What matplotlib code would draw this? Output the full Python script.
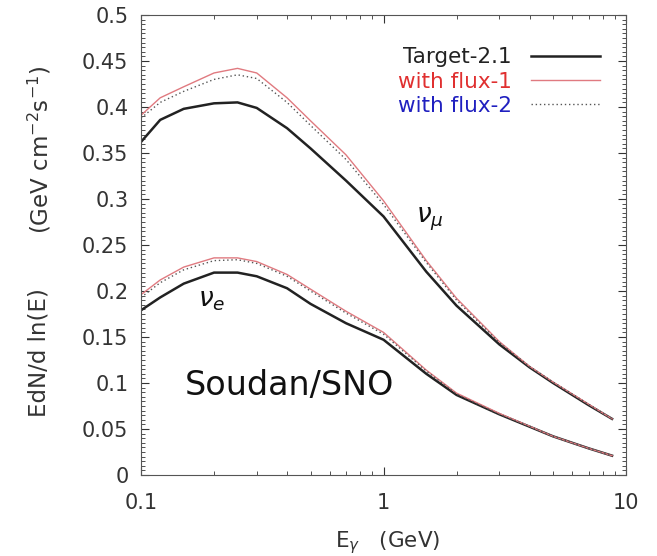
import numpy as np
import matplotlib
matplotlib.use('Agg')
import matplotlib.pyplot as plt
from matplotlib.ticker import MultipleLocator, NullFormatter

# energie (GeV)
energia = [0.1, 0.12, 0.15, 0.2, 0.25, 0.3, 0.4, 0.5, 0.7, 1.0, 1.5, 2.0, 3.0, 4.0, 5.0, 7.0, 8.75]

# nu_mu
numu_target = [0.362, 0.386, 0.398, 0.404, 0.405, 0.399, 0.377, 0.355, 0.320, 0.281, 0.221, 0.184, 0.142, 0.117, 0.100, 0.076, 0.061]
numu_flux1 = [0.391, 0.410, 0.422, 0.437, 0.442, 0.437, 0.410, 0.385, 0.348, 0.298, 0.233, 0.192, 0.145, 0.118, 0.101, 0.077, 0.061]
numu_flux2 = [0.388, 0.405, 0.417, 0.430, 0.435, 0.431, 0.405, 0.380, 0.343, 0.294, 0.231, 0.190, 0.144, 0.118, 0.101, 0.077, 0.061]

# nu_e
nue_target = [0.179, 0.193, 0.208, 0.220, 0.220, 0.216, 0.203, 0.186, 0.165, 0.147, 0.110, 0.087, 0.066, 0.0525, 0.042, 0.029, 0.021]
nue_flux1 = [0.196, 0.212, 0.226, 0.236, 0.236, 0.232, 0.218, 0.202, 0.178, 0.155, 0.114, 0.089, 0.067, 0.053, 0.042, 0.029, 0.021]
nue_flux2 = [0.193, 0.209, 0.223, 0.233, 0.234, 0.230, 0.216, 0.200, 0.176, 0.153, 0.113, 0.088, 0.066, 0.053, 0.042, 0.029, 0.021]

etichette = ['Target-2.1', 'with flux-1', 'with flux-2']
colori_testo = ['#222222', '#e03030', '#2020c0']

plt.rcParams['font.family'] = ['DejaVu Sans']

fig = plt.figure(figsize=(6.57, 5.56), dpi=100)
ax = fig.add_axes([0.2146, 0.1457, 0.7384, 0.8273])

# curve
l1, = ax.plot(energia, numu_target, color='#222222', lw=1.8)
l2, = ax.plot(energia, numu_flux1, color='#e07a80', lw=1.0)
l3, = ax.plot(energia, numu_flux2, color='#555555', lw=1.0, ls=(0, (1, 2)))
ax.plot(energia, nue_target, color='#222222', lw=1.8)
ax.plot(energia, nue_flux1, color='#e07a80', lw=1.0)
ax.plot(energia, nue_flux2, color='#555555', lw=1.0, ls=(0, (1, 2)))

ax.set_xscale('log')
ax.set_xlim(0.1, 10)
ax.set_ylim(0, 0.5)
ax.yaxis.set_minor_locator(MultipleLocator(0.005))
ax.set_yticks(np.arange(0, 0.501, 0.05))
ax.set_yticklabels(['0', '0.05', '0.1', '0.15', '0.2', '0.25', '0.3', '0.35', '0.4', '0.45', '0.5'])
ax.set_xticks([0.1, 1, 10])
ax.set_xticklabels(['0.1', '1', '10'])
ax.xaxis.set_minor_formatter(NullFormatter())
ax.tick_params(which='both', direction='in', top=True, right=True, labelsize=15, colors='#333333')
ax.tick_params(which='major', length=6)
ax.tick_params(axis='y', pad=9)
ax.tick_params(axis='x', pad=13)
ax.tick_params(which='minor', length=3)
for s in ax.spines.values():
    s.set_color('#555555')

# etichette assi
fig.text(0.06, 0.73, r'(GeV cm$^{\mathregular{-2}}$s$^{\mathregular{-1}}$)', rotation=90,
         ha='center', va='center', fontsize=16.5, color='#333333')
fig.text(0.06, 0.365, 'EdN/d ln(E)', rotation=90, ha='center', va='center', fontsize=16.5, color='#333333')
fig.text(0.59, 0.0, r'E$_{\gamma}$   (GeV)', ha='center', va='bottom', fontsize=15.5, color='#333333')

# testi dentro il grafico
ax.text(0.152, 0.087, 'Soudan/SNO', fontsize=24, color='#111111')
ax.text(1.36, 0.275, r'$\nu_{\mu}$', fontsize=19, color='#111111')
ax.text(0.172, 0.183, r'$\nu_{e}$', fontsize=19, color='#111111')

leg = ax.legend([l1, l2, l3], etichette, loc='upper right', bbox_to_anchor=(0.946, 0.93),
                frameon=False, markerfirst=False, fontsize=15.5, handlelength=3.2,
                labelspacing=0.2, borderpad=0, borderaxespad=0, handletextpad=0.9)
for t, c in zip(leg.get_texts(), colori_testo):
    t.set_color(c)

fig.savefig('out.png', dpi=100)
